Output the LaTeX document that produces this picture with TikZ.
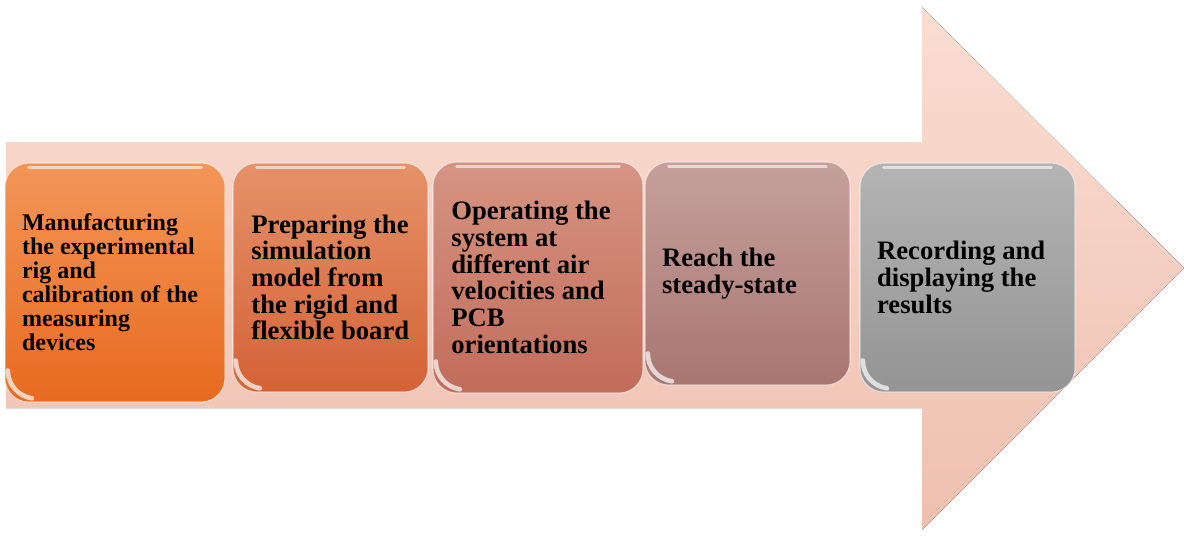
\documentclass[tikz,border=0pt]{standalone}
\usepackage{fontspec}
\setmainfont{Liberation Serif}
\begin{document}
\begin{tikzpicture}[x=0.75pt,y=0.75pt]
\definecolor{arrT}{RGB}{251,221,210}
\definecolor{arrB}{RGB}{238,192,176}
\definecolor{c1t}{RGB}{243,150,88}
\definecolor{c1b}{RGB}{232,106,32}
\definecolor{c2t}{RGB}{230,145,105}
\definecolor{c2b}{RGB}{212,98,55}
\definecolor{c3t}{RGB}{214,148,130}
\definecolor{c3b}{RGB}{194,108,90}
\definecolor{c4t}{RGB}{198,160,156}
\definecolor{c4b}{RGB}{168,118,113}
\definecolor{c5t}{RGB}{180,180,180}
\definecolor{c5b}{RGB}{148,148,148}
\tikzset{
  stepbox/.style={rounded corners=18pt, draw=white, draw opacity=0.55, line width=0.8pt, inner sep=0pt},
  steptext/.style={anchor=west, align=left, inner sep=0pt, text=black, font=\bfseries\fontsize{20}{20}\selectfont},
  hl/.style={white, line width=2pt, opacity=0.6, line cap=round},
  glare/.style={white, line width=3.5pt, opacity=0.7, line cap=round},
}
\useasboundingbox (0,0) rectangle (1184,544);
% big arrow
\fill[top color=arrT, bottom color=arrB] (6,136) -- (922,136) -- (922,14) -- (1184,276) -- (922,537) -- (922,402) -- (6,402) -- cycle;
% boxes
\node[stepbox, top color=c1t, bottom color=c1b, minimum width=165pt, minimum height=179.25pt] (b1) at (115,261.5) {};
\node[stepbox, top color=c2t, bottom color=c2b, minimum width=146.25pt, minimum height=171.75pt] (b2) at (330.5,266.5) {};
\node[stepbox, top color=c3t, bottom color=c3b, minimum width=157.5pt, minimum height=173.25pt] (b3) at (538,266.5) {};
\node[stepbox, top color=c4t, bottom color=c4b, minimum width=153.75pt, minimum height=167.25pt] (b4) at (747.5,270.5) {};
\node[stepbox, top color=c5t, bottom color=c5b, minimum width=161.25pt, minimum height=171.75pt] (b5) at (967.5,266.5) {};
% gloss
\foreach \b in {b1,b2,b3,b4,b5} {
  \draw[hl] ([xshift=18pt,yshift=-4pt]\b.north west) -- ([xshift=-18pt,yshift=-4pt]\b.north east);
  \draw[glare] ([xshift=2.5pt,yshift=24pt]\b.south west) arc[start angle=180,end angle=262,radius=21pt];
}
% texts
\node[steptext, font=\bfseries\fontsize{18}{18}\selectfont] (t1) at ([xshift=13pt]b1.west) {Manufacturing\\the experimental\\rig and\\calibration of the\\measuring\\devices};
\node[steptext] (t2) at ([xshift=14pt]b2.west) {Preparing the\\simulation\\model from\\the rigid and\\flexible board};
\node[steptext] (t3) at ([xshift=14pt]b3.west) {Operating the\\system at\\different air\\velocities and\\PCB\\orientations};
\node[steptext] (t4) at ([xshift=13pt]b4.west) {Reach the\\steady-state};
\node[steptext] (t5) at ([xshift=13pt]b5.west) {Recording and\\displaying the\\results};
\end{tikzpicture}
\end{document}
